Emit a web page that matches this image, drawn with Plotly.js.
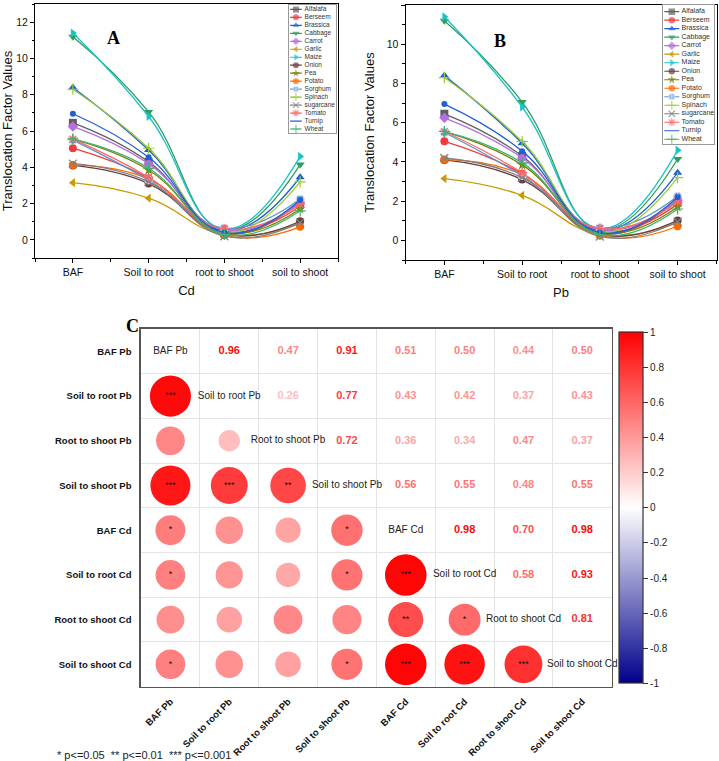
<!DOCTYPE html>
<html>
<head>
<meta charset="utf-8">
<script src="https://cdn.plot.ly/plotly-3.0.1.min.js"></script>
<style>
  html, body { margin: 0; padding: 0; background: #fff; }
  #chart { width: 719px; height: 761px; }
</style>
</head>
<body>
<div id="chart"></div>
<script>
// ---------- data ----------
const stages = ['BAF', 'Soil to root', 'root to shoot', 'soil to shoot'];
const plants = ['Alfalafa', 'Berseem', 'Brassica', 'Cabbage', 'Carrot', 'Garlic', 'Maize', 'Onion',
                'Pea', 'Potato', 'Sorghum', 'Spinach', 'sugarcane', 'Tomato', 'Turnip', 'Wheat'];

// one row per plant, values in stage order
const cdFactors = [
  [6.45, 4.30, 0.35, 2.10],
  [5.05, 3.40, 0.45, 1.85],
  [8.40, 4.95, 0.50, 3.45],
  [11.20, 7.05, 0.55, 4.15],
  [6.25, 4.20, 0.55, 2.05],
  [3.15, 2.30, 0.30, 0.90],
  [11.40, 6.80, 0.60, 4.60],
  [4.10, 3.10, 0.30, 1.02],
  [5.55, 3.85, 0.40, 1.70],
  [4.12, 3.35, 0.25, 0.72],
  [5.50, 3.30, 0.65, 2.25],
  [8.30, 5.05, 0.40, 3.20],
  [4.20, 3.20, 0.20, 0.95],
  [5.55, 3.45, 0.60, 1.95],
  [6.95, 4.55, 0.40, 2.20],
  [5.55, 3.95, 0.30, 1.60]
];
const pbFactors = [
  [6.45, 4.30, 0.35, 2.10],
  [5.05, 3.40, 0.45, 1.85],
  [8.40, 4.95, 0.50, 3.45],
  [11.20, 7.05, 0.55, 4.15],
  [6.25, 4.20, 0.55, 2.05],
  [3.15, 2.30, 0.30, 0.90],
  [11.40, 6.80, 0.60, 4.60],
  [4.10, 3.10, 0.30, 1.02],
  [5.55, 3.85, 0.40, 1.70],
  [4.12, 3.35, 0.25, 0.72],
  [5.50, 3.30, 0.65, 2.25],
  [8.30, 5.05, 0.40, 3.20],
  [4.20, 3.20, 0.20, 0.95],
  [5.55, 3.45, 0.60, 1.95],
  [6.95, 4.55, 0.40, 2.20],
  [5.55, 3.95, 0.30, 1.60]
];

const corrLabels = ['BAF Pb', 'Soil to root Pb', 'Root to shoot Pb', 'Soil to shoot Pb',
                    'BAF Cd', 'Soil to root Cd', 'Root to shoot Cd', 'Soil to shoot Cd'];
const corrValues = [
  [1.00, 0.96, 0.47, 0.91, 0.51, 0.50, 0.44, 0.50],
  [0.96, 1.00, 0.26, 0.77, 0.43, 0.42, 0.37, 0.43],
  [0.47, 0.26, 1.00, 0.72, 0.36, 0.34, 0.47, 0.37],
  [0.91, 0.77, 0.72, 1.00, 0.56, 0.55, 0.48, 0.55],
  [0.51, 0.43, 0.36, 0.56, 1.00, 0.98, 0.70, 0.98],
  [0.50, 0.42, 0.34, 0.55, 0.98, 1.00, 0.58, 0.93],
  [0.44, 0.37, 0.47, 0.48, 0.70, 0.58, 1.00, 0.81],
  [0.50, 0.43, 0.37, 0.55, 0.98, 0.93, 0.81, 1.00]
];
const corrStars = [
  ['', '', '', '', '', '', '', ''],
  ['***', '', '', '', '', '', '', ''],
  ['', '', '', '', '', '', '', ''],
  ['***', '***', '**', '', '', '', '', ''],
  ['*', '', '', '*', '', '', '', ''],
  ['*', '', '', '*', '***', '', '', ''],
  ['', '', '', '', '**', '*', '', ''],
  ['*', '', '', '*', '***', '***', '***', '']
];
const colorTicks = [1, 0.8, 0.6, 0.4, 0.2, 0, -0.2, -0.4, -0.6, -0.8, -1];
const colorTickText = ['1', '0.8', '0.6', '0.4', '0.2', '0', '-0.2', '-0.4', '-0.6', '-0.8', '-1'];

// ---------- styles ----------
const plantColors = ['#5f5f5f', '#f03c3c', '#1d5fd6', '#2e9e5b', '#b46ee0', '#c89b00', '#19c3c8', '#6b3f3f',
                     '#7f8000', '#ff6a00', '#5b93d0', '#99cc33', '#808080', '#ff6666', '#1f5fd8', '#3cb371'];
const plantSymbols = ['square', 'circle', 'triangle-up', 'triangle-down', 'diamond', 'triangle-left',
                      'triangle-right', 'circle', 'star', 'circle', 'circle-cross', 'cross-thin-open',
                      'x-thin-open', 'asterisk-open', 'circle', 'cross-thin-open'];
const noMarker = 'Turnip';
const FONT = 'Arial, "Liberation Sans", sans-serif';
const SERIF = '"Times New Roman", "Liberation Serif", serif';
const corrScale = [[0, '#00008b'], [0.5, '#ffffff'], [1, '#ff0000']];

function redBlue(r) {
  // white -> red for positive, white -> dark blue for negative
  if (r >= 0) {
    const g = Math.round(255 * (1 - r));
    return `rgb(255,${g},${g})`;
  }
  const t = -r;
  return `rgb(${Math.round(255 * (1 - t))},${Math.round(255 * (1 - t))},${Math.round(255 - (255 - 139) * t)})`;
}

function markerFor(i, size) {
  const open = plantSymbols[i].includes('open');
  return {
    symbol: plantSymbols[i],
    size: plants[i] === noMarker ? 0 : size,
    color: plantColors[i],
    line: {
      color: plantSymbols[i] === 'circle-cross' ? '#d4e3f5' : plantColors[i],
      width: open ? 1.2 : (plantSymbols[i] === 'circle-cross' ? 1 : 0)
    }
  };
}

const traces = [];

// ---------- panels A and B ----------
function addPanel(values, xa, ya) {
  values.forEach((row, i) => {
    traces.push({
      x: stages.map((_, k) => k), y: row, xaxis: xa, yaxis: ya,
      type: 'scatter', mode: 'lines+markers', name: plants[i], showlegend: false,
      line: { color: plantColors[i], width: 1.3, shape: 'spline', smoothing: 1.3 },
      marker: markerFor(i, 8), hoverinfo: 'skip'
    });
  });
}
addPanel(cdFactors, 'x', 'y');
addPanel(pbFactors, 'x2', 'y2');

// compact legends, drawn on their own small axes
function addLegend(xa, ya, x0, x1, tx, msize, fsize) {
  plants.forEach((p, i) => {
    traces.push({
      x: [x0, (x0 + x1) / 2, x1], y: [i, i, i], xaxis: xa, yaxis: ya,
      type: 'scatter', mode: 'lines+markers', showlegend: false, hoverinfo: 'skip',
      line: { color: plantColors[i], width: 1.2 },
      marker: Object.assign(markerFor(i, msize), { size: [0, p === noMarker ? 0 : msize, 0] })
    });
  });
  traces.push({
    x: plants.map(() => tx), y: plants.map((_, i) => i), xaxis: xa, yaxis: ya,
    type: 'scatter', mode: 'text', text: plants, textposition: 'middle right', cliponaxis: false,
    textfont: { family: FONT, size: fsize, color: '#333' }, showlegend: false, hoverinfo: 'skip'
  });
}
addLegend('x4', 'y4', 0.03, 0.28, 0.34, 6, 6.5);
addLegend('x5', 'y5', 0.02, 0.315, 0.36, 6.5, 7);

// ---------- panel C: correlation matrix ----------
const cx = [], cy = [], cc = [], csz = [];
const sx = [], sy = [], st = [];
const ux = [], uy = [], ut = [], uc = [];
const dx = [], dy = [];
corrValues.forEach((row, i) => {
  row.forEach((r, j) => {
    if (i > j) {
      cx.push(j); cy.push(i); cc.push(redBlue(r)); csz.push(42 * Math.sqrt(Math.abs(r)));
      if (corrStars[i][j]) { sx.push(j); sy.push(i); st.push(corrStars[i][j]); }
    } else if (i < j) {
      ux.push(j); uy.push(i); ut.push(r.toFixed(2)); uc.push(redBlue(r));
    } else {
      dx.push(j); dy.push(i);
    }
  });
});

traces.push({
  x: cx, y: cy, xaxis: 'x3', yaxis: 'y3', type: 'scatter', mode: 'markers',
  showlegend: false, hoverinfo: 'skip',
  marker: { size: csz, color: cc, opacity: 1, line: { width: 0 } }
});
// colour bar only (invisible point)
traces.push({
  x: [0], y: [0], xaxis: 'x3', yaxis: 'y3', type: 'scatter', mode: 'markers',
  showlegend: false, hoverinfo: 'skip',
  marker: {
    size: 0, opacity: 0, color: [0], cmin: -1, cmax: 1, colorscale: corrScale, showscale: true,
    colorbar: {
      x: 619 / 719, xanchor: 'left', xpad: 0, ypad: 0,
      y: 1 - 507.8 / 761, yanchor: 'middle',
      len: 351, lenmode: 'pixels', thickness: 24,
      outlinewidth: 1.2, outlinecolor: '#333',
      tickmode: 'array', tickvals: colorTicks, ticktext: colorTickText,
      ticks: 'outside', ticklen: 5, tickcolor: '#333',
      tickfont: { family: FONT, size: 10, color: '#222' }
    }
  }
});
traces.push({
  x: sx, y: sy, xaxis: 'x3', yaxis: 'y3', type: 'scatter', mode: 'text', text: st,
  textposition: 'middle center', textfont: { family: FONT, size: 9, color: '#111' },
  showlegend: false, hoverinfo: 'skip'
});
traces.push({
  x: ux, y: uy, xaxis: 'x3', yaxis: 'y3', type: 'scatter', mode: 'text', text: ut,
  textposition: 'middle center', textfont: { family: FONT, size: 11, color: uc, weight: 'bold' },
  showlegend: false, hoverinfo: 'skip'
});
traces.push({
  x: dx, y: dy, xaxis: 'x3', yaxis: 'y3', type: 'scatter', mode: 'text', text: corrLabels,
  textposition: 'middle center', cliponaxis: false,
  textfont: { family: FONT, size: 10, color: '#222' },
  showlegend: false, hoverinfo: 'skip'
});

// ---------- layout ----------
function panelX(domain, title) {
  return {
    domain, range: [-0.5, 3.5], tickmode: 'array', tickvals: [0, 1, 2, 3], ticktext: stages,
    ticks: 'outside', ticklen: 4, tickcolor: '#000', showline: true, mirror: true,
    linecolor: '#000', linewidth: 1, showgrid: false, zeroline: false,
    tickfont: { family: FONT, size: 10.5, color: '#111' },
    minor: { tickmode: 'array', tickvals: [-0.5, 0.5, 1.5, 2.5, 3.5], ticks: 'outside', ticklen: 2.5, tickcolor: '#000', showgrid: false },
    title: { text: title, font: { family: FONT, size: 13, color: '#111' }, standoff: 9 }
  };
}
function panelY(domain, range, standoff) {
  return {
    domain, range, tickmode: 'array', tickvals: [0, 2, 4, 6, 8, 10, 12],
    ticks: 'outside', ticklen: 4, tickcolor: '#000', showline: true, mirror: true,
    linecolor: '#000', linewidth: 1, showgrid: false, zeroline: false,
    tickfont: { family: FONT, size: 10.5, color: '#111' },
    minor: { tickmode: 'array', tickvals: [-1, 1, 3, 5, 7, 9, 11, 13], ticks: 'outside', ticklen: 2.5, tickcolor: '#000', showgrid: false },
    title: { text: 'Translocation Factor Values', font: { family: FONT, size: 13, color: '#111' }, standoff }
  };
}
function legendAxis(domain, range) {
  return {
    domain, range, showticklabels: false, ticks: '', showgrid: false, zeroline: false,
    showline: true, mirror: true, linecolor: '#999', linewidth: 1, fixedrange: true
  };
}
const boundaries = [0.5, 1.5, 2.5, 3.5, 4.5, 5.5, 6.5];

const layout = {
  width: 719, height: 761,
  margin: { l: 0, r: 0, t: 0, b: 0 },
  paper_bgcolor: '#fff', plot_bgcolor: 'rgba(0,0,0,0)',
  showlegend: false,
  xaxis: panelX([35 / 719, 338 / 719], 'Cd'),
  yaxis: panelY([1 - 258 / 761, 1 - 4 / 761], [-1, 13], 3),
  xaxis2: Object.assign(panelX([405.5 / 719, 716.5 / 719], 'Pb'), { anchor: 'y2' }),
  yaxis2: Object.assign(panelY([1 - 260 / 761, 1 - 5 / 761], [-1, 12], 9), { anchor: 'x2' }),
  xaxis3: {
    domain: [141 / 719, 611.7 / 719], anchor: 'y3', range: [-0.5, 7.5],
    tickmode: 'array', tickvals: [0, 1, 2, 3, 4, 5, 6, 7], ticktext: corrLabels, tickangle: -45,
    ticks: '', ticklabelstandoff: 4, showgrid: false, zeroline: false,
    showline: true, mirror: true, linecolor: '#555', linewidth: 1.6,
    tickfont: { family: FONT, size: 9.5, color: '#111', weight: 'bold' },
    minor: { tickmode: 'array', tickvals: boundaries, ticks: '', showgrid: true, gridcolor: '#e4e4e4', gridwidth: 1 }
  },
  yaxis3: {
    domain: [1 - 686.7 / 761, 1 - 329 / 761], anchor: 'x3', range: [7.5, -0.5],
    tickmode: 'array', tickvals: [0, 1, 2, 3, 4, 5, 6, 7], ticktext: corrLabels,
    ticks: '', ticklabelstandoff: 6, showgrid: false, zeroline: false,
    showline: true, mirror: true, linecolor: '#555', linewidth: 1.6,
    tickfont: { family: FONT, size: 9.5, color: '#111', weight: 'bold' },
    minor: { tickmode: 'array', tickvals: boundaries, ticks: '', showgrid: true, gridcolor: '#e4e4e4', gridwidth: 1 }
  },
  xaxis4: Object.assign(legendAxis([288.7 / 719, 335.5 / 719], [0, 1]), { anchor: 'y4' }),
  yaxis4: Object.assign(legendAxis([1 - 133 / 761, 1 - 5 / 761], [15.5, -0.55]), { anchor: 'x4' }),
  xaxis5: Object.assign(legendAxis([663.3 / 719, 714 / 719], [0, 1]), { anchor: 'y5' }),
  yaxis5: Object.assign(legendAxis([1 - 144 / 761, 1 - 5 / 761], [15.56, -0.79]), { anchor: 'x5' }),
  annotations: [
    { text: '<b>A</b>', xref: 'paper', yref: 'paper', x: 105 / 719, y: 1 - 26 / 761, showarrow: false,
      font: { family: SERIF, size: 18, color: '#000' } },
    { text: '<b>B</b>', xref: 'paper', yref: 'paper', x: 507.7 / 719, y: 1 - 29 / 761, showarrow: false,
      font: { family: SERIF, size: 18, color: '#000' } },
    { text: '<b>C</b>', xref: 'paper', yref: 'paper', x: 124 / 719, y: 1 - 326 / 761, showarrow: false,
      font: { family: SERIF, size: 18, color: '#000' } },
    { text: '* p<=0.05  ** p<=0.01  *** p<=0.001', xref: 'paper', yref: 'paper',
      x: 55 / 719, y: 1 - 755 / 761, xanchor: 'left', yanchor: 'middle', showarrow: false,
      font: { family: FONT, size: 11, color: '#222' } }
  ]
};

Plotly.newPlot('chart', traces, layout, { displayModeBar: false, staticPlot: true });
</script>
</body>
</html>
